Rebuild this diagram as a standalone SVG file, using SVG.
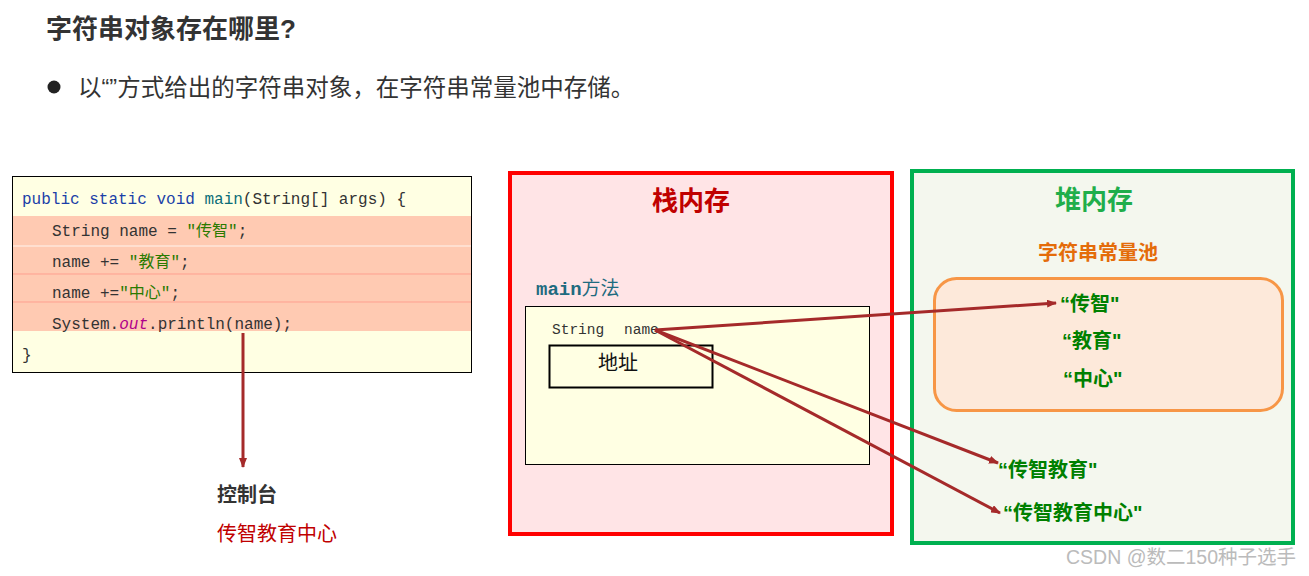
<svg xmlns="http://www.w3.org/2000/svg" width="1309" height="576" viewBox="0 0 1309 576">
<defs>
<marker id="ah" markerWidth="10" markerHeight="8" refX="9" refY="4" orient="auto" markerUnits="userSpaceOnUse"><path d="M0,0 L10,4 L0,8 z" fill="#A52A2A"/></marker>
<style>
.cjk{font-family:"Liberation Sans","Noto Sans CJK SC",sans-serif}
.code{font-family:"Liberation Mono","Noto Sans CJK SC",monospace;font-size:16px;fill:#333}
.kw{fill:#1b3fa8}.fn{fill:#0b6d78}.str{fill:#2a7a00}.out{fill:#b0008a;font-style:italic}
.g{font-family:"Liberation Sans","Noto Sans CJK SC",sans-serif;font-weight:bold;font-size:20px;fill:#008000}
.conn{stroke:#A52A2A;stroke-width:3;fill:none;marker-end:url(#ah)}
</style>
</defs>
<rect width="1309" height="576" fill="#fff"/>
<g id="header">
<text x="46" y="38" class="cjk" font-size="26" font-weight="bold" fill="#333">字符串对象存在哪里?</text>
<circle cx="54" cy="87" r="6.5" fill="#222"/>
<text x="78" y="96" class="cjk" font-size="23.5" fill="#333">以“”方式给出的字符串对象，在字符串常量池中存储。</text>
</g>
<g id="code">
<rect x="12.5" y="176.5" width="459" height="196" fill="#FFFFE3" stroke="#000"/>
<rect x="13" y="216" width="458" height="115" fill="#FFCAB2"/>
<line x1="13" y1="246" x2="471" y2="246" stroke="#FFF4EE" stroke-width="1"/>
<line x1="13" y1="274" x2="471" y2="274" stroke="#FF9F8F" stroke-width="1"/>
<line x1="13" y1="302" x2="471" y2="302" stroke="#FF9F8F" stroke-width="1"/>
<text x="22" y="204" class="code"><tspan class="kw">public static void </tspan><tspan class="fn">main</tspan>(String[] args) {</text>
<text x="52" y="236" class="code">String name = <tspan class="str">"传智"</tspan>;</text>
<text x="52" y="267" class="code">name += <tspan class="str">"教育"</tspan>;</text>
<text x="52" y="298" class="code">name +=<tspan class="str">"中心"</tspan>;</text>
<text x="52" y="329" class="code">System.<tspan class="out">out</tspan>.println(name);</text>
<text x="22" y="360" class="code">}</text>
</g>
<g id="console">
<text x="217" y="502" class="cjk" font-size="20" font-weight="bold" fill="#333">控制台</text>
<text x="217" y="541" class="cjk" font-size="20" fill="#C00000">传智教育中心</text>
</g>
<g id="stack">
<rect x="510" y="173" width="382" height="361" fill="#FFE4E6" stroke="#FF0000" stroke-width="4"/>
<text x="691" y="210" text-anchor="middle" class="cjk" font-size="26" font-weight="bold" fill="#C00000">栈内存</text>
<text x="536" y="295" font-size="19" fill="#1F6B7F"><tspan font-family="Liberation Mono,monospace" font-weight="bold">main</tspan><tspan class="cjk">方法</tspan></text>
<rect x="525.5" y="306.5" width="344" height="158" fill="#FFFFE3" stroke="#000"/>
<text x="552" y="334" font-family="Liberation Mono,monospace" font-size="14.5" fill="#333">String</text>
<text x="624" y="334" font-family="Liberation Mono,monospace" font-size="14.5" fill="#333">name</text>
<rect x="549.5" y="345.5" width="163" height="42" fill="none" stroke="#000" stroke-width="2"/>
<text x="598" y="370" class="cjk" font-size="20" fill="#111">地址</text>
</g>
<g id="heap">
<rect x="912" y="171" width="381" height="372" fill="#F4F7EE" stroke="#00B050" stroke-width="4"/>
<text x="1094" y="209" text-anchor="middle" class="cjk" font-size="26" font-weight="bold" fill="#1FAE4B">堆内存</text>
<text x="1098" y="260" text-anchor="middle" class="cjk" font-size="20" font-weight="bold" fill="#E46C0A">字符串常量池</text>
<rect x="934.5" y="278.5" width="348" height="132" rx="22" fill="#FDE9DA" stroke="#F79646" stroke-width="3"/>
<text x="1060" y="311" class="g">“传智"</text>
<text x="1062" y="348" class="g">“教育"</text>
<text x="1063" y="386" class="g">“中心"</text>
<text x="998" y="477" class="g">“传智教育"</text>
<text x="1003" y="520" class="g">“传智教育中心"</text>
</g>
<g id="connectors">
<line x1="243" y1="333" x2="243" y2="467" class="conn" stroke-width="2.5"/>
<line x1="655" y1="330" x2="1056" y2="303" class="conn"/>
<line x1="655" y1="330" x2="998" y2="463" class="conn"/>
<line x1="655" y1="330" x2="1000" y2="513" class="conn"/>
</g>
<text x="1066" y="564" font-size="19.5" fill="#BBBBBB" font-family="Liberation Sans,Noto Sans CJK SC,sans-serif">CSDN @数二150种子选手</text>
</svg>
